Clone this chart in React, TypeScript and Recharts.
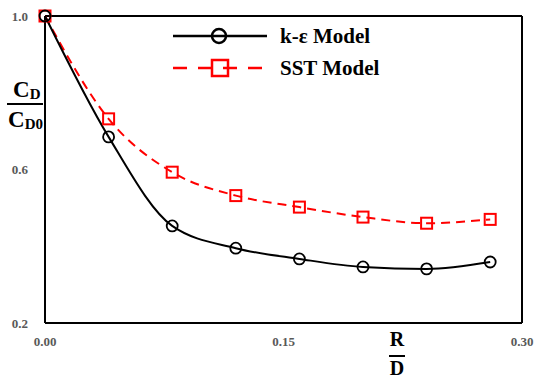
import { Line, LineChart, ReferenceLine, XAxis, YAxis } from "recharts";

const RD = [0, 0.04, 0.08, 0.12, 0.16, 0.2, 0.24, 0.28];
const K_EPS = [1.0, 0.685, 0.453, 0.395, 0.367, 0.346, 0.341, 0.359];
const SST = [1.0, 0.732, 0.593, 0.532, 0.502, 0.476, 0.46, 0.47];
const X_TICKS = [0, 0.15, 0.3];
const Y_TICKS = [0.2, 0.6, 1.0];

const data = RD.map((x, i) => ({ x, kEps: K_EPS[i], sst: SST[i] }));

const SERIF = "'Liberation Serif', 'DejaVu Serif', serif";

const SquareDot = (props: any) => {
  const { cx, cy } = props;
  if (cx == null || cy == null) return null;
  return (
    <rect
      x={cx - 5.5}
      y={cy - 5.5}
      width={11}
      height={11}
      fill="none"
      stroke="#ff0000"
      strokeWidth={2}
    />
  );
};

const CircleDot = (props: any) => {
  const { cx, cy } = props;
  if (cx == null || cy == null) return null;
  return (
    <circle cx={cx} cy={cy} r={5.5} fill="none" stroke="#000" strokeWidth={1.8} />
  );
};

const tickStyle = {
  fontFamily: SERIF,
  fontWeight: 700,
  fontSize: 13,
  fill: "#595959",
};

const App = () => {
  return (
    <div style={{ position: "absolute", left: 0, top: 0, width: 534, height: 378, background: "#fff" }}>
      <LineChart
        width={534}
        height={378}
        data={data}
        margin={{ top: 16, right: 12, left: 0, bottom: 0 }}
      >
        <XAxis
          dataKey="x"
          type="number"
          domain={[0, 0.3]}
          ticks={X_TICKS}
          tickFormatter={(v: number) => v.toFixed(2)}
          tick={tickStyle}
          tickLine={false}
          tickMargin={8}
          axisLine={{ stroke: "#000", strokeWidth: 2 }}
          height={55}
        />
        <YAxis
          type="number"
          domain={[0.2, 1.0]}
          ticks={Y_TICKS}
          tickFormatter={(v: number) => v.toFixed(1)}
          tick={tickStyle}
          tickLine={false}
          tickMargin={11}
          axisLine={{ stroke: "#000", strokeWidth: 2 }}
          width={45}
        />
        <ReferenceLine y={1.0} stroke="#000" strokeWidth={2} />
        <ReferenceLine x={0.3} stroke="#000" strokeWidth={2} />
        <Line
          type="monotone"
          dataKey="sst"
          stroke="#ff0000"
          strokeWidth={2}
          strokeDasharray="9 6"
          dot={<SquareDot />}
          isAnimationActive={false}
        />
        <Line
          type="monotone"
          dataKey="kEps"
          stroke="#000"
          strokeWidth={2}
          dot={<CircleDot />}
          isAnimationActive={false}
        />
      </LineChart>

      {/* legend and fraction labels */}
      <svg
        style={{ position: "absolute", left: 0, top: 0, pointerEvents: "none" }}
        width={534}
        height={378}
      >
        <line x1={173} y1={36} x2={267} y2={36} stroke="#000" strokeWidth={2.5} />
        <circle cx={219} cy={36} r={7} fill="none" stroke="#000" strokeWidth={2.5} />
        <text x={280} y={43} fontFamily={SERIF} fontWeight={700} fontSize={21} fill="#000">
          k-ε Model
        </text>
        <line
          x1={173}
          y1={68}
          x2={265}
          y2={68}
          stroke="#ff0000"
          strokeWidth={2.5}
          strokeDasharray="14 11"
        />
        <rect x={212} y={60} width={16} height={16} fill="none" stroke="#ff0000" strokeWidth={2.5} />
        <text x={280} y={75} fontFamily={SERIF} fontWeight={700} fontSize={21} fill="#000">
          SST Model
        </text>

        <text x={13} y={97} fontFamily={SERIF} fontWeight={700} fontSize={23} fill="#000">
          C<tspan fontSize={15} dy={2}>D</tspan>
        </text>
        <line x1={7} y1={104} x2={43} y2={104} stroke="#000" strokeWidth={2} />
        <text x={8} y={127} fontFamily={SERIF} fontWeight={700} fontSize={23} fill="#000">
          C<tspan fontSize={15} dy={2}>D0</tspan>
        </text>

        <text x={397} y={346} textAnchor="middle" fontFamily={SERIF} fontWeight={700} fontSize={20} fill="#000">
          R
        </text>
        <line x1={389} y1={356} x2={405} y2={356} stroke="#000" strokeWidth={2} />
        <text x={397} y={375} textAnchor="middle" fontFamily={SERIF} fontWeight={700} fontSize={20} fill="#000">
          D
        </text>
      </svg>
    </div>
  );
};

export default App;
